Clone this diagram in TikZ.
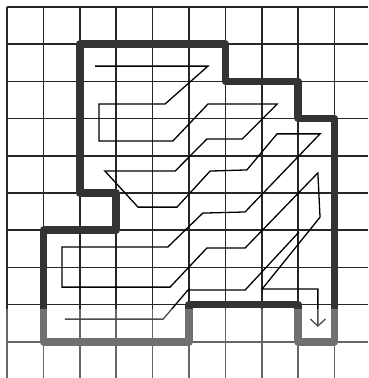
\documentclass[tikz,border=0pt]{standalone}
\usetikzlibrary{arrows.meta}
\begin{document}
\begin{tikzpicture}[
        x=36.4pt, y=-37.2pt,
        gridline/.style={line width=1.5pt, black!85},
        boundary/.style={line width=7.5pt, black!80, line join=round},
        sweep/.style={line width=1.3pt, black, line join=miter}
    ]
        \useasboundingbox (-0.192,-0.188) rectangle (9.918,9.973);

        % grid
        \foreach \i in {0,...,9} {
            \draw[gridline] (\i,0) -- (\i,9.973);
            \draw[gridline] (0,\i) -- (9.918,\i);
        }

        % room outline
        \draw[boundary] (2,1) -- (6,1) -- (6,2) -- (8,2) -- (8,3) -- (9,3) -- (9,9)
            -- (8,9) -- (8,8) -- (5,8) -- (5,9) -- (1,9) -- (1,6) -- (3,6) -- (3,5)
            -- (2,5) -- cycle;

        % sweep path
        \draw[sweep, -{Straight Barb[length=7pt, width=15pt]}]
            (2.42,1.59) -- (5.52,1.59) -- (4.34,2.61) -- (2.53,2.61) -- (2.53,3.60)
            -- (4.56,3.60) -- (5.52,2.61) -- (7.42,2.61) -- (6.46,3.55) -- (5.49,3.55)
            -- (4.62,4.41) -- (2.69,4.41) -- (3.60,5.38) -- (4.67,5.38) -- (5.58,4.41)
            -- (6.59,4.38) -- (7.42,3.41) -- (8.60,3.41) -- (6.54,5.51) -- (5.38,5.54)
            -- (4.42,6.45) -- (1.51,6.45) -- (1.51,7.53) -- (4.48,7.53) -- (5.49,6.48)
            -- (6.54,6.48) -- (8.54,4.46) -- (8.60,5.65) -- (7.01,7.58) -- (8.54,7.58)
            -- (8.54,8.60);
        \draw[sweep] (1.59,8.39) -- (4.29,8.39) -- (4.97,7.61) -- (6.54,7.61) -- (8.02,6.05);

        % faded lower edge of the scan
        \fill[white, opacity=0.3] (-0.192,8.12) rectangle (9.918,9.973);
\end{tikzpicture}
\end{document}
